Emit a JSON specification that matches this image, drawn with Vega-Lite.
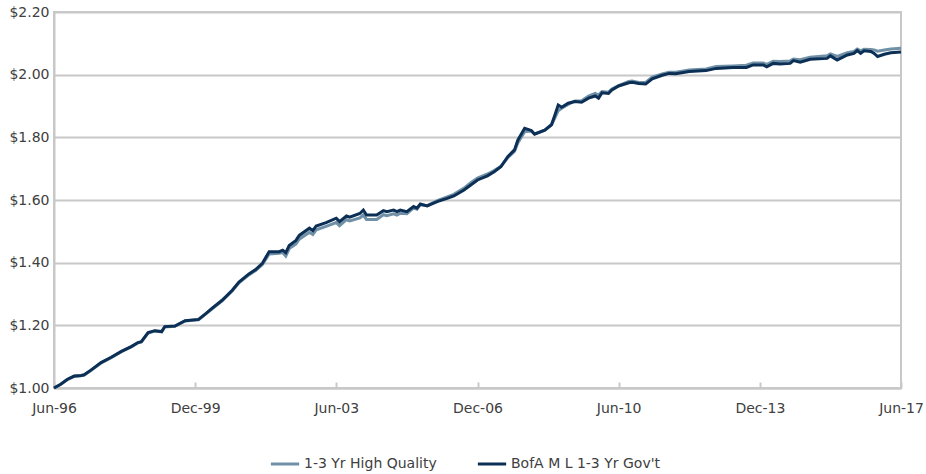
{
  "$schema": "https://vega.github.io/schema/vega-lite/v6.json",
  "width": 847,
  "height": 376,
  "autosize": "none",
  "padding": {"left": 54, "top": 12, "right": 25, "bottom": 86},
  "background": "white",
  "config": {
    "font": "DejaVu Sans",
    "view": {"stroke": "#c8c8c8", "strokeWidth": 2},
    "axis": {"labelFont": "DejaVu Sans", "labelColor": "#404040", "labelFontSize": 14, "title": null}
  },
  "data": {
    "values": [
      {"date": "1996-06-01", "hq": 1.000, "gov": 1.000},
      {"date": "1996-08-01", "hq": 1.012, "gov": 1.012},
      {"date": "1996-10-01", "hq": 1.027, "gov": 1.028},
      {"date": "1996-12-01", "hq": 1.037, "gov": 1.038},
      {"date": "1997-02-01", "hq": 1.039, "gov": 1.040},
      {"date": "1997-03-01", "hq": 1.041, "gov": 1.042},
      {"date": "1997-05-01", "hq": 1.056, "gov": 1.057},
      {"date": "1997-08-01", "hq": 1.080, "gov": 1.081},
      {"date": "1997-11-01", "hq": 1.097, "gov": 1.098},
      {"date": "1998-02-01", "hq": 1.116, "gov": 1.117},
      {"date": "1998-05-01", "hq": 1.131, "gov": 1.132},
      {"date": "1998-07-01", "hq": 1.144, "gov": 1.145},
      {"date": "1998-08-01", "hq": 1.147, "gov": 1.148},
      {"date": "1998-10-01", "hq": 1.175, "gov": 1.177},
      {"date": "1998-12-01", "hq": 1.182, "gov": 1.183},
      {"date": "1999-02-01", "hq": 1.179, "gov": 1.180},
      {"date": "1999-03-01", "hq": 1.195, "gov": 1.196},
      {"date": "1999-06-01", "hq": 1.197, "gov": 1.198},
      {"date": "1999-09-01", "hq": 1.214, "gov": 1.215},
      {"date": "2000-01-01", "hq": 1.218, "gov": 1.219},
      {"date": "2000-03-01", "hq": 1.235, "gov": 1.236},
      {"date": "2000-05-01", "hq": 1.252, "gov": 1.254},
      {"date": "2000-08-01", "hq": 1.278, "gov": 1.280},
      {"date": "2000-11-01", "hq": 1.310, "gov": 1.312},
      {"date": "2001-01-01", "hq": 1.336, "gov": 1.338},
      {"date": "2001-04-01", "hq": 1.361, "gov": 1.364},
      {"date": "2001-06-01", "hq": 1.375, "gov": 1.378},
      {"date": "2001-08-01", "hq": 1.394, "gov": 1.398},
      {"date": "2001-10-01", "hq": 1.428, "gov": 1.435},
      {"date": "2002-01-01", "hq": 1.430, "gov": 1.435},
      {"date": "2002-02-01", "hq": 1.432, "gov": 1.440},
      {"date": "2002-03-01", "hq": 1.421, "gov": 1.432},
      {"date": "2002-04-01", "hq": 1.445, "gov": 1.455},
      {"date": "2002-06-01", "hq": 1.460, "gov": 1.471},
      {"date": "2002-07-01", "hq": 1.475, "gov": 1.487},
      {"date": "2002-10-01", "hq": 1.497, "gov": 1.510},
      {"date": "2002-11-01", "hq": 1.490, "gov": 1.502},
      {"date": "2002-12-01", "hq": 1.505, "gov": 1.517},
      {"date": "2003-03-01", "hq": 1.516, "gov": 1.528},
      {"date": "2003-06-01", "hq": 1.528, "gov": 1.542},
      {"date": "2003-07-01", "hq": 1.518, "gov": 1.531},
      {"date": "2003-09-01", "hq": 1.537, "gov": 1.549},
      {"date": "2003-10-01", "hq": 1.533, "gov": 1.545},
      {"date": "2004-01-01", "hq": 1.543, "gov": 1.557},
      {"date": "2004-02-01", "hq": 1.552, "gov": 1.568},
      {"date": "2004-03-01", "hq": 1.538, "gov": 1.552},
      {"date": "2004-06-01", "hq": 1.538, "gov": 1.552},
      {"date": "2004-08-01", "hq": 1.553, "gov": 1.566},
      {"date": "2004-09-01", "hq": 1.550, "gov": 1.563},
      {"date": "2004-11-01", "hq": 1.556, "gov": 1.568},
      {"date": "2004-12-01", "hq": 1.552, "gov": 1.563},
      {"date": "2005-01-01", "hq": 1.558, "gov": 1.568},
      {"date": "2005-03-01", "hq": 1.556, "gov": 1.563},
      {"date": "2005-05-01", "hq": 1.575, "gov": 1.579},
      {"date": "2005-06-01", "hq": 1.571, "gov": 1.574},
      {"date": "2005-07-01", "hq": 1.585, "gov": 1.587},
      {"date": "2005-09-01", "hq": 1.582, "gov": 1.581},
      {"date": "2005-12-01", "hq": 1.598, "gov": 1.595},
      {"date": "2006-03-01", "hq": 1.610, "gov": 1.605},
      {"date": "2006-05-01", "hq": 1.618, "gov": 1.613},
      {"date": "2006-08-01", "hq": 1.638, "gov": 1.632},
      {"date": "2006-10-01", "hq": 1.655, "gov": 1.648},
      {"date": "2006-12-01", "hq": 1.670, "gov": 1.664},
      {"date": "2007-03-01", "hq": 1.683, "gov": 1.677},
      {"date": "2007-05-01", "hq": 1.694, "gov": 1.690},
      {"date": "2007-07-01", "hq": 1.708, "gov": 1.706},
      {"date": "2007-09-01", "hq": 1.735, "gov": 1.738},
      {"date": "2007-11-01", "hq": 1.755, "gov": 1.760},
      {"date": "2007-12-01", "hq": 1.782, "gov": 1.791},
      {"date": "2008-02-01", "hq": 1.818, "gov": 1.829},
      {"date": "2008-04-01", "hq": 1.820, "gov": 1.822},
      {"date": "2008-05-01", "hq": 1.811, "gov": 1.810},
      {"date": "2008-08-01", "hq": 1.823, "gov": 1.823},
      {"date": "2008-10-01", "hq": 1.840, "gov": 1.840},
      {"date": "2008-11-01", "hq": 1.862, "gov": 1.871},
      {"date": "2008-12-01", "hq": 1.885, "gov": 1.903},
      {"date": "2009-01-01", "hq": 1.893, "gov": 1.896},
      {"date": "2009-03-01", "hq": 1.905, "gov": 1.909},
      {"date": "2009-05-01", "hq": 1.916, "gov": 1.914},
      {"date": "2009-07-01", "hq": 1.917, "gov": 1.912},
      {"date": "2009-09-01", "hq": 1.932, "gov": 1.925},
      {"date": "2009-11-01", "hq": 1.940, "gov": 1.932},
      {"date": "2009-12-01", "hq": 1.935, "gov": 1.925},
      {"date": "2010-01-01", "hq": 1.946, "gov": 1.942},
      {"date": "2010-03-01", "hq": 1.944, "gov": 1.940},
      {"date": "2010-04-01", "hq": 1.954, "gov": 1.951},
      {"date": "2010-06-01", "hq": 1.965, "gov": 1.964},
      {"date": "2010-09-01", "hq": 1.978, "gov": 1.974},
      {"date": "2010-10-01", "hq": 1.980, "gov": 1.976},
      {"date": "2010-12-01", "hq": 1.975, "gov": 1.972},
      {"date": "2011-02-01", "hq": 1.975, "gov": 1.970},
      {"date": "2011-04-01", "hq": 1.992, "gov": 1.987},
      {"date": "2011-07-01", "hq": 2.002, "gov": 1.998},
      {"date": "2011-09-01", "hq": 2.008, "gov": 2.004},
      {"date": "2011-11-01", "hq": 2.008, "gov": 2.003},
      {"date": "2012-03-01", "hq": 2.015, "gov": 2.010},
      {"date": "2012-08-01", "hq": 2.018, "gov": 2.013},
      {"date": "2012-11-01", "hq": 2.026, "gov": 2.020},
      {"date": "2013-04-01", "hq": 2.028, "gov": 2.023},
      {"date": "2013-08-01", "hq": 2.030, "gov": 2.023},
      {"date": "2013-10-01", "hq": 2.037, "gov": 2.031},
      {"date": "2014-01-01", "hq": 2.037, "gov": 2.031},
      {"date": "2014-02-01", "hq": 2.033, "gov": 2.025},
      {"date": "2014-04-01", "hq": 2.043, "gov": 2.036},
      {"date": "2014-06-01", "hq": 2.042, "gov": 2.034},
      {"date": "2014-09-01", "hq": 2.044, "gov": 2.036},
      {"date": "2014-10-01", "hq": 2.050, "gov": 2.045},
      {"date": "2014-12-01", "hq": 2.048, "gov": 2.040},
      {"date": "2015-03-01", "hq": 2.056, "gov": 2.049},
      {"date": "2015-08-01", "hq": 2.060, "gov": 2.052},
      {"date": "2015-09-01", "hq": 2.066, "gov": 2.060},
      {"date": "2015-11-01", "hq": 2.058, "gov": 2.047},
      {"date": "2016-02-01", "hq": 2.070, "gov": 2.063},
      {"date": "2016-04-01", "hq": 2.074, "gov": 2.068},
      {"date": "2016-05-01", "hq": 2.082, "gov": 2.077},
      {"date": "2016-06-01", "hq": 2.076, "gov": 2.068},
      {"date": "2016-07-01", "hq": 2.081, "gov": 2.076},
      {"date": "2016-09-01", "hq": 2.080, "gov": 2.074},
      {"date": "2016-10-01", "hq": 2.079, "gov": 2.068},
      {"date": "2016-11-01", "hq": 2.075, "gov": 2.058},
      {"date": "2017-01-01", "hq": 2.079, "gov": 2.065},
      {"date": "2017-03-01", "hq": 2.082, "gov": 2.070},
      {"date": "2017-06-01", "hq": 2.084, "gov": 2.072}
    ]
  },
  "transform": [
    {"fold": ["hq", "gov"], "as": ["series", "value"]}
  ],
  "mark": {"type": "line", "strokeWidth": 3, "interpolate": "linear"},
  "encoding": {
    "x": {
      "field": "date",
      "type": "temporal",
      "scale": {
        "type": "utc",
        "domain": [{"year": 1996, "month": 6, "date": 1, "utc": true}, {"year": 2017, "month": 6, "date": 1, "utc": true}]
      },
      "axis": {
        "values": [
          {"year": 1996, "month": 6, "date": 1, "utc": true},
          {"year": 1999, "month": 12, "date": 1, "utc": true},
          {"year": 2003, "month": 6, "date": 1, "utc": true},
          {"year": 2006, "month": 12, "date": 1, "utc": true},
          {"year": 2010, "month": 6, "date": 1, "utc": true},
          {"year": 2013, "month": 12, "date": 1, "utc": true},
          {"year": 2017, "month": 6, "date": 1, "utc": true}
        ],
        "labelExpr": "utcFormat(datum.value, '%b-%y')",
        "grid": false,
        "domain": true,
        "domainColor": "#c8c8c8",
        "domainWidth": 2,
        "ticks": true,
        "tickColor": "#c8c8c8",
        "tickWidth": 2,
        "tickSize": -6,
        "labelPadding": 19,
        "labelFlush": false,
        "labelOverlap": false
      }
    },
    "y": {
      "field": "value",
      "type": "quantitative",
      "scale": {"domain": [1.0, 2.2], "zero": false, "nice": false},
      "axis": {
        "values": [1.0, 1.2, 1.4, 1.6, 1.8, 2.0, 2.2],
        "format": "$.2f",
        "grid": true,
        "gridColor": "#c8c8c8",
        "gridWidth": 2,
        "domain": true,
        "domainColor": "#c8c8c8",
        "domainWidth": 2,
        "ticks": false,
        "labelPadding": 5
      }
    },
    "color": {
      "field": "series",
      "type": "nominal",
      "scale": {
        "domain": ["hq", "gov"],
        "range": ["#6f90a6", "#0c2f55"]
      },
      "legend": {
        "title": null,
        "orient": "none",
        "direction": "horizontal",
        "legendX": 215,
        "legendY": 436,
        "symbolType": "stroke",
        "symbolSize": 800,
        "symbolStrokeWidth": 3,
        "labelExpr": "datum.label == 'hq' ? '1-3 Yr High Quality' : \"BofA M L 1-3 Yr Gov't\"",
        "labelFont": "DejaVu Sans",
        "labelFontSize": 14,
        "labelColor": "#404040",
        "labelOffset": 3,
        "columnPadding": 34
      }
    },
    "order": {"field": "series"}
  }
}
